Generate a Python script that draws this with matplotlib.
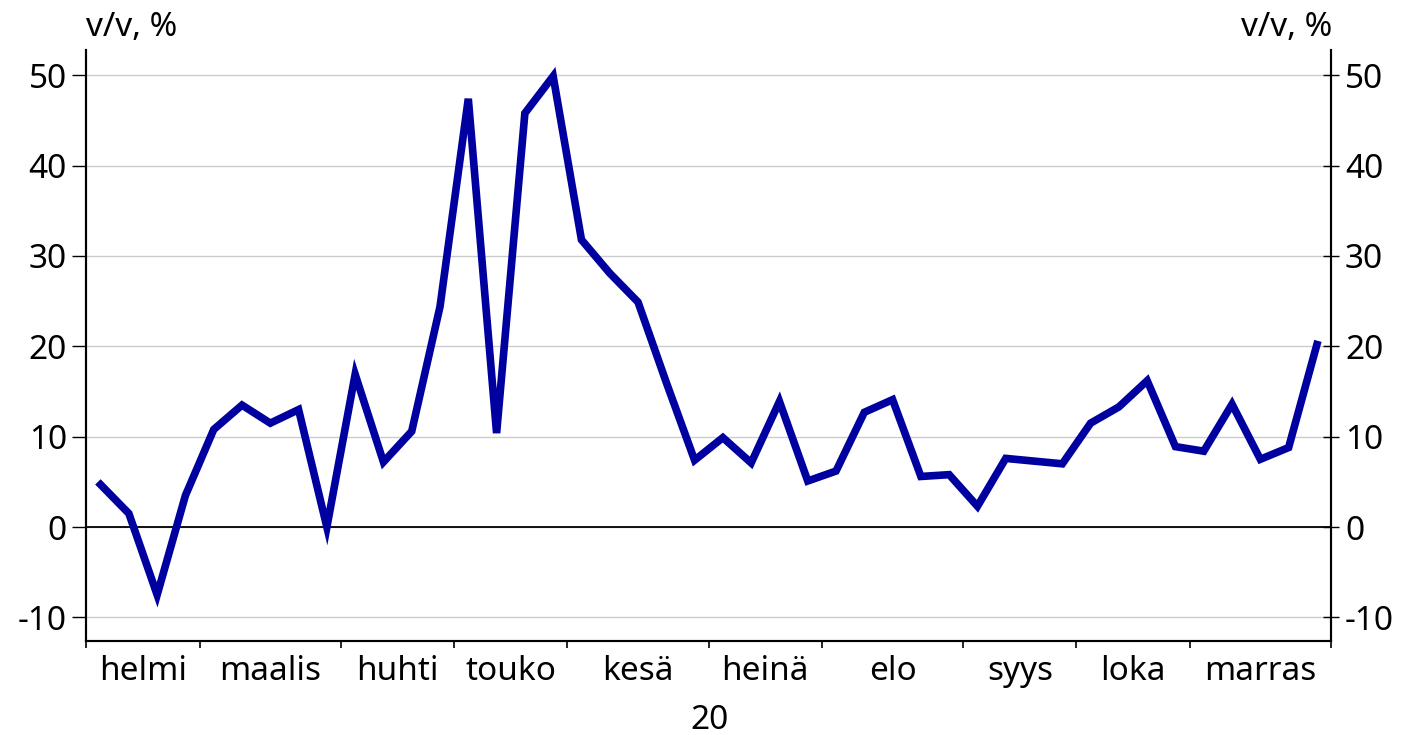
import matplotlib
matplotlib.use("Agg")
import matplotlib.pyplot as plt
import numpy as np

plt.rcParams["font.family"] = ["Noto Sans", "DejaVu Sans"]
plt.rcParams["axes.unicode_minus"] = False

# Weekly y/y change, Feb-Nov 2020
values = [4.7, 1.5, -7.5, 3.5, 10.8, 13.5, 11.5, 13.0, 0.0, 16.9,
          7.2, 10.6, 24.4, 47.4, 10.4, 45.8, 49.9, 31.8, 28.1, 24.9,
          16.0, 7.4, 9.9, 7.1, 13.9, 5.1, 6.2, 12.7, 14.1, 5.6,
          5.8, 2.3, 7.6, 7.3, 7.0, 11.5, 13.3, 16.2, 8.9, 8.4,
          13.6, 7.5, 8.8, 20.2]
months = ["helmi", "maalis", "huhti", "touko", "kesä", "heinä",
          "elo", "syys", "loka", "marras"]
weeks_per_month = [4, 5, 4, 4, 5, 4, 5, 4, 4, 5]
year_label = "20"
unit = "v/v, %"

x = np.arange(len(values))
bounds = np.concatenate([[0], np.cumsum(weeks_per_month)]) - 0.5
centers = (bounds[:-1] + bounds[1:]) / 2

fig = plt.figure(figsize=(14.1, 7.35), dpi=100)
ax = fig.add_axes([0.0613, 0.128, 0.8827, 0.804])

ax.set_axisbelow(True)
ax.grid(axis="y", color="#cccccc", linewidth=1)
ax.axhline(0, color="black", linewidth=1.3, zorder=2)
ax.plot(x, values, color="#0000a0", linewidth=5.5, zorder=3,
        solid_joinstyle="miter")

ax.set_xlim(-0.5, len(values) - 0.5)
ax.set_ylim(-12.6, 52.8)
ax.set_yticks(range(-10, 51, 10))
ax.set_xticks(bounds)
ax.set_xticklabels([])
ax.set_xticks(centers, minor=True)
ax.set_xticklabels(months, minor=True)
ax.tick_params(axis="x", which="major", direction="out", length=5, width=1.2)
ax.tick_params(axis="x", which="minor", length=0, pad=10, labelsize=24)
ax.tick_params(axis="y", direction="out", length=10, width=1, labelsize=24,
               pad=4)

for s in ["left", "right", "bottom"]:
    ax.spines[s].set_color("black")
    ax.spines[s].set_linewidth(1.5)
ax.spines["top"].set_visible(False)

ax2 = ax.twinx()
ax2.set_ylim(ax.get_ylim())
ax2.set_yticks(range(-10, 51, 10))
ax2.tick_params(axis="y", direction="inout", length=12, width=1, labelsize=24,
                pad=4)
for s in ["left", "right", "bottom"]:
    ax2.spines[s].set_linewidth(1.5)
ax2.spines["top"].set_visible(False)

fig.text(0.0613, 0.962, unit, fontsize=24, ha="left", va="center")
fig.text(0.945, 0.962, unit, fontsize=24, ha="right", va="center")
fig.text(0.503, 0.02, year_label, fontsize=24, ha="center", va="center")

fig.savefig("out.png", dpi=100, facecolor="white")
